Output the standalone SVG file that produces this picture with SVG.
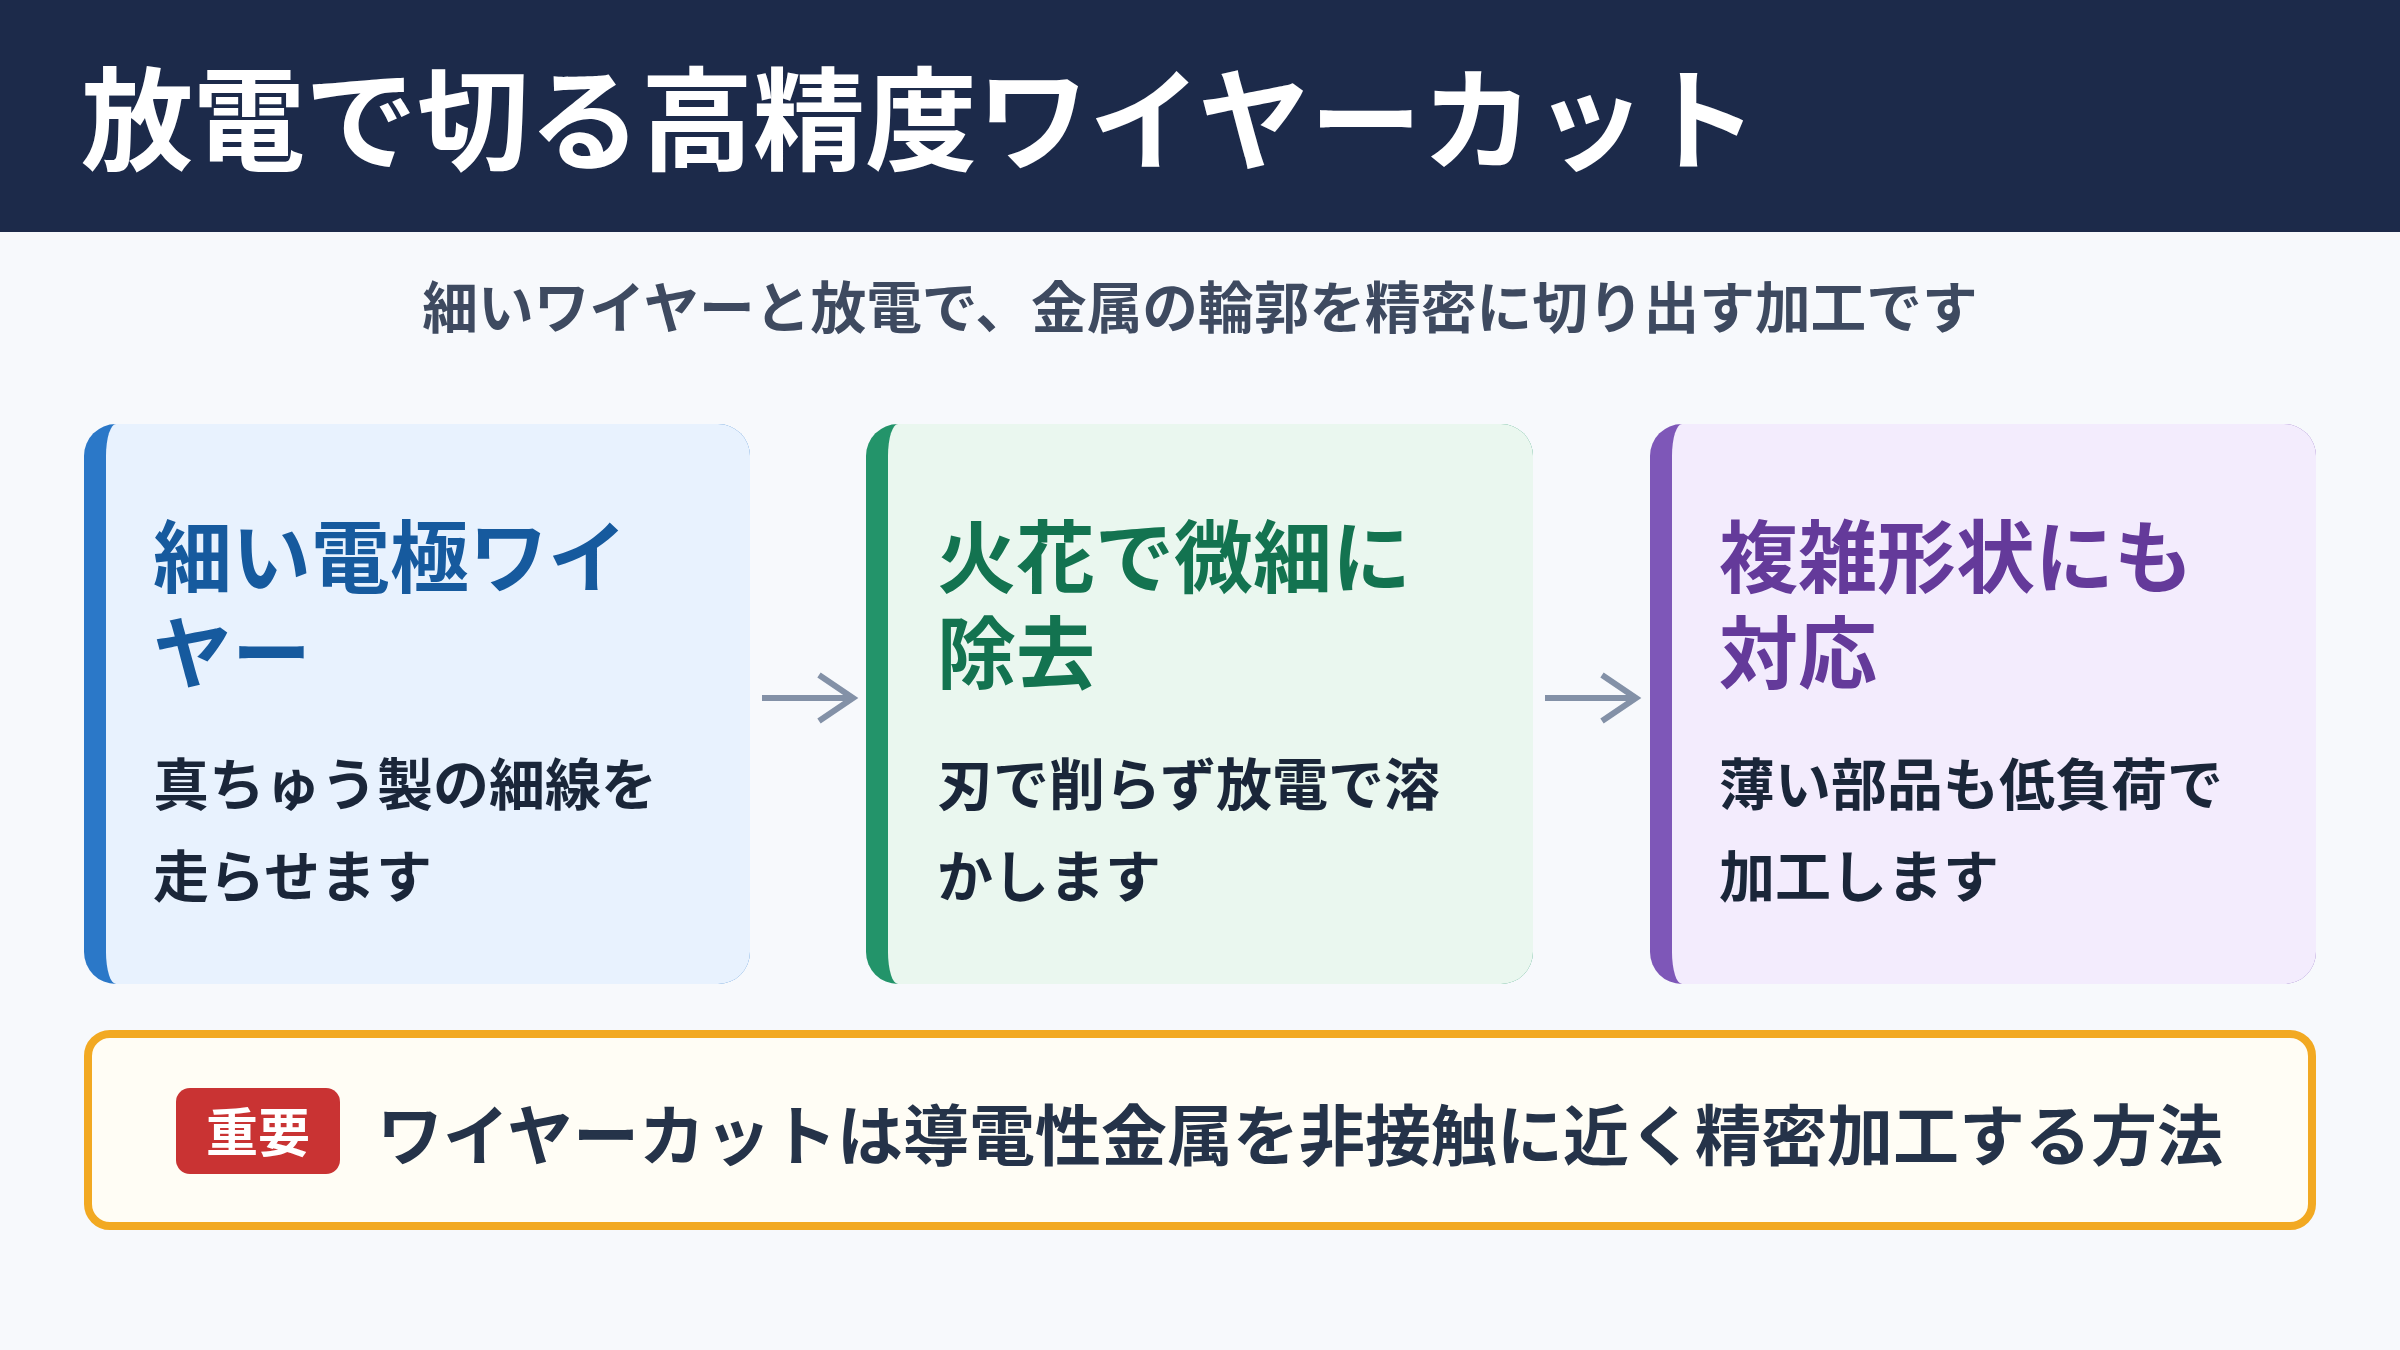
<svg xmlns="http://www.w3.org/2000/svg" width="2400" height="1350" viewBox="0 0 2400 1350">
<defs>
<style>
text{font-family:"Noto Sans CJK JP","Noto Sans CJK SC",sans-serif;font-weight:700}
.title{font-size:112px;fill:#ffffff}
.sub{font-size:55.7px;fill:#3e4a60}
.ct{font-size:79px}
.cb{font-size:56px;fill:#1a2639}
.arrow{stroke:#8391a7;stroke-width:6;fill:none}
</style>
</defs>
<rect x="0" y="0" width="2400" height="1350" fill="#f7f9fc"/>
<g id="header">
<rect x="0" y="0" width="2400" height="232" fill="#1c2a4a"/>
<text class="title" x="81" y="162">放電で切る高精度ワイヤーカット</text>
</g>
<text class="sub" x="1200" y="328" text-anchor="middle">細いワイヤーと放電で、金属の輪郭を精密に切り出す加工です</text>
<g id="card1" transform="translate(84,424)">
<rect x="0" y="0" width="666" height="560" rx="32" fill="#2b78c8"/>
<path d="M32,0 H634 A32 32 0 0 1 666,32 V528 A32 32 0 0 1 634,560 H32 A10 32 0 0 1 22,528 V32 A10 32 0 0 1 32,0 Z" fill="#e8f2fe"/>
<text class="ct" x="69" y="163" fill="#165a9e">細い電極ワイ</text>
<text class="ct" x="69" y="259" fill="#165a9e">ヤー</text>
<text class="cb" x="69" y="381">真ちゅう製の細線を</text>
<text class="cb" x="69" y="473">走らせます</text>
</g>
<g id="card2" transform="translate(866,424)">
<rect x="0" y="0" width="667" height="560" rx="32" fill="#23946a"/>
<path d="M32,0 H635 A32 32 0 0 1 667,32 V528 A32 32 0 0 1 635,560 H32 A10 32 0 0 1 22,528 V32 A10 32 0 0 1 32,0 Z" fill="#eaf7ef"/>
<text class="ct" x="71" y="163" fill="#137350">火花で微細に</text>
<text class="ct" x="71" y="259" fill="#137350">除去</text>
<text class="cb" x="71" y="381">刃で削らず放電で溶</text>
<text class="cb" x="71" y="473">かします</text>
</g>
<g id="card3" transform="translate(1650,424)">
<rect x="0" y="0" width="666" height="560" rx="32" fill="#7e57b8"/>
<path d="M32,0 H634 A32 32 0 0 1 666,32 V528 A32 32 0 0 1 634,560 H32 A10 32 0 0 1 22,528 V32 A10 32 0 0 1 32,0 Z" fill="#f3ecfd"/>
<text class="ct" x="69" y="163" fill="#643a9a">複雑形状にも</text>
<text class="ct" x="69" y="259" fill="#643a9a">対応</text>
<text class="cb" x="69" y="381">薄い部品も低負荷で</text>
<text class="cb" x="69" y="473">加工します</text>
</g>
<g id="connectors">
<path class="arrow" d="M762,698 H852 M819,675 L853,698 L819,721"/>
<path class="arrow" d="M1545,698 H1635 M1602,675 L1636,698 L1602,721"/>
</g>
<g id="note">
<rect x="88" y="1034" width="2224" height="192" rx="22" fill="#fffdf5" stroke="#f2a922" stroke-width="8"/>
<rect x="176" y="1088" width="164" height="86" rx="14" fill="#c93333"/>
<text x="258" y="1152" font-size="52" fill="#ffffff" text-anchor="middle">重要</text>
<text x="377" y="1160" font-size="66" fill="#253349">ワイヤーカットは導電性金属を非接触に近く精密加工する方法</text>
</g>
</svg>
